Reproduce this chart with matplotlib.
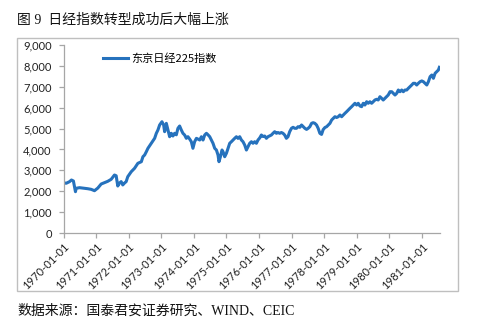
import matplotlib.pyplot as plt
import matplotlib.dates as mdates
import pandas as pd
from matplotlib.patches import Rectangle
from matplotlib.ticker import FuncFormatter

plt.rcParams['font.family'] = ['Lato', 'Noto Sans CJK SC', 'DejaVu Sans']

# 东京日经225指数 (roughly twice a month)
dates = [
    '1970-01-01', '1970-01-31', '1970-03-09', '1970-03-31', '1970-04-22', '1970-05-07',
    '1970-05-15', '1970-05-23', '1970-06-29', '1970-08-24', '1970-09-30', '1970-11-07',
    '1970-12-14', '1971-01-20', '1971-02-27', '1971-04-05', '1971-05-12', '1971-06-19',
    '1971-07-26', '1971-08-14', '1971-09-01', '1971-09-20', '1971-10-09', '1971-10-27',
    '1971-11-15', '1971-12-04', '1971-12-22', '1972-01-30', '1972-03-07', '1972-04-13',
    '1972-05-22', '1972-06-09', '1972-06-28', '1972-07-17', '1972-08-04', '1972-09-11',
    '1972-10-18', '1972-11-06', '1972-11-24', '1972-12-13', '1973-01-08', '1973-01-27',
    '1973-02-07', '1973-02-26', '1973-03-16', '1973-04-04', '1973-04-23', '1973-05-11',
    '1973-05-30', '1973-06-18', '1973-07-06', '1973-07-25', '1973-08-13', '1973-08-31',
    '1973-09-19', '1973-10-08', '1973-10-26', '1973-11-14', '1973-12-03', '1973-12-21',
    '1974-01-09', '1974-01-29', '1974-03-07', '1974-03-26', '1974-04-13', '1974-05-02',
    '1974-05-21', '1974-06-08', '1974-06-27', '1974-07-16', '1974-08-03', '1974-08-22',
    '1974-09-10', '1974-09-28', '1974-10-09', '1974-10-25', '1974-11-12', '1974-11-23',
    '1974-12-12', '1974-12-31', '1975-01-18', '1975-02-06', '1975-02-25', '1975-03-15',
    '1975-04-03', '1975-04-22', '1975-05-10', '1975-05-29', '1975-06-17', '1975-07-05',
    '1975-07-24', '1975-08-12', '1975-08-30', '1975-09-18', '1975-10-07', '1975-10-25',
    '1975-11-13', '1975-12-02', '1975-12-20', '1976-01-08', '1976-01-27', '1976-02-14',
    '1976-03-04', '1976-03-23', '1976-04-10', '1976-04-29', '1976-05-18', '1976-06-05',
    '1976-06-24', '1976-07-13', '1976-07-31', '1976-08-19', '1976-09-07', '1976-09-25',
    '1976-10-14', '1976-11-02', '1976-11-20', '1976-12-09', '1976-12-29', '1977-01-16',
    '1977-02-04', '1977-02-23', '1977-03-13', '1977-04-02', '1977-04-21', '1977-05-09',
    '1977-05-28', '1977-06-16', '1977-07-04', '1977-07-23', '1977-08-11', '1977-08-29',
    '1977-09-17', '1977-10-06', '1977-10-24', '1977-11-12', '1977-12-01', '1977-12-19',
    '1978-01-08', '1978-01-27', '1978-02-14', '1978-03-05', '1978-03-24', '1978-04-11',
    '1978-04-30', '1978-05-19', '1978-06-06', '1978-06-25', '1978-07-14', '1978-08-01',
    '1978-08-20', '1978-09-08', '1978-09-26', '1978-10-15', '1978-11-03', '1978-11-21',
    '1978-12-10', '1978-12-29', '1979-01-16', '1979-02-04', '1979-02-23', '1979-03-13',
    '1979-04-01', '1979-04-20', '1979-05-08', '1979-05-27', '1979-06-15', '1979-07-03',
    '1979-07-22', '1979-08-10', '1979-08-28', '1979-09-16', '1979-10-05', '1979-10-23',
    '1979-11-11', '1979-11-30', '1979-12-18', '1980-01-07', '1980-01-26', '1980-02-13',
    '1980-03-03', '1980-03-22', '1980-04-09', '1980-04-28', '1980-05-17', '1980-06-04',
    '1980-06-23', '1980-07-12', '1980-07-30', '1980-08-18', '1980-09-06', '1980-09-24',
    '1980-10-13', '1980-11-01', '1980-11-19', '1980-12-09', '1980-12-28', '1981-01-15',
    '1981-02-03', '1981-02-22', '1981-03-12', '1981-03-31', '1981-04-19', '1981-05-07',
    '1981-05-26', '1981-06-14', '1981-07-02', '1981-07-13',
]
nikkei = [
    2408, 2380, 2456, 2537, 2490, 2140,
    1977, 2140, 2170, 2140, 2120, 2090,
    2025, 2150, 2345, 2410, 2475, 2570,
    2776, 2740, 2250, 2390, 2460, 2300,
    2390, 2460, 2695, 2935, 3097, 3336,
    3413, 3652, 3734, 3892, 4055, 4294,
    4533, 4773, 4931, 5170, 5328, 5170,
    4850, 5250, 4931, 4610, 4773, 4643,
    4773, 4700, 5012, 5122, 4931, 4773,
    4691, 4533, 4610, 4500, 4371, 4055,
    4371, 4533, 4452, 4610, 4452, 4691,
    4773, 4700, 4610, 4452, 4294, 4055,
    3973, 3734, 3413, 3652, 3973, 3892,
    3652, 3815, 4055, 4294, 4371, 4452,
    4533, 4610, 4530, 4610, 4452, 4371,
    4213, 3973, 4131, 4294, 4371, 4294,
    4371, 4294, 4452, 4550, 4691, 4620,
    4643, 4533, 4610, 4650, 4691, 4773,
    4850, 4773, 4810, 4773, 4810, 4773,
    4691, 4533, 4610, 4850, 5012, 5060,
    5012, 5012, 5090, 5060, 5170, 5090,
    5012, 4960, 5012, 5090, 5250, 5282,
    5250, 5170, 5012, 4773, 4720, 4950,
    5050, 5090, 5170, 5250, 5410, 5490,
    5567, 5530, 5567, 5649, 5567, 5649,
    5730, 5807, 5888, 5969, 6046, 6127,
    6209, 6127, 6209, 6080, 6046, 6209,
    6127, 6285, 6209, 6285, 6209, 6285,
    6367, 6400, 6367, 6525, 6448, 6367,
    6448, 6525, 6606, 6764, 6764, 6687,
    6606, 6687, 6845, 6764, 6845, 6764,
    6845, 6845, 6927, 7004, 7085, 7166,
    7166, 7085, 7166, 7243, 7280, 7243,
    7166, 7085, 7243, 7482, 7563, 7406,
    7645, 7725, 7803, 7932,
]
series_name = '东京日经225指数'
title = '图 9  日经指数转型成功后大幅上涨'
source = '数据来源：国泰君安证券研究、WIND、CEIC'

W, H = 479, 332
fig = plt.figure(figsize=(W / 100, H / 100), dpi=100)
ax = fig.add_axes([63.5 / W, 1 - 233 / H, (440 - 63.5) / W, (233 - 45) / H])

ax.plot(pd.to_datetime(dates), nikkei, color='#2672bd', lw=2.2, label=series_name)

ax.set_ylim(0, 9000)
ax.set_yticks(range(0, 9001, 1000))
ax.yaxis.set_major_formatter(FuncFormatter(lambda v, _: f'{v:,.0f}'))
ax.set_xlim(pd.Timestamp('1970-01-01'), pd.Timestamp('1981-07-20'))
ax.xaxis.set_major_locator(mdates.YearLocator())
ax.xaxis.set_major_formatter(mdates.DateFormatter('%Y-%m-%d'))

for s in ['top', 'right']:
    ax.spines[s].set_visible(False)
for s in ['left', 'bottom']:
    ax.spines[s].set_color('#a6a6a6')
    ax.spines[s].set_linewidth(0.9)
ax.tick_params(axis='both', color='#a6a6a6', length=3.5, width=0.9,
               labelsize=8, labelcolor='#222222')
ax.tick_params(axis='y', pad=5)
ax.tick_params(axis='x', pad=2)
plt.setp(ax.get_xticklabels(), rotation=45, ha='right', rotation_mode='anchor')

ax.legend(loc='center left', bbox_to_anchor=(103 / W, 1 - 59 / H),
          bbox_transform=fig.transFigure, frameon=False, borderpad=0,
          borderaxespad=0, handlelength=2.25, handletextpad=0.3,
          prop={'family': ['Noto Sans CJK SC', 'DejaVu Sans'], 'size': 8})

# outer frame around the chart
fig.patches.append(Rectangle((17 / W, 1 - 291 / H), (458 - 17) / W, (291 - 38) / H,
                             transform=fig.transFigure, fill=False,
                             ec='#bfbfbf', lw=1.0))

fig.text(17 / W, 1 - 20 / H, title, va='center', ha='left', fontsize=10,
         color='#111111', family=['Liberation Serif', 'Noto Sans CJK SC'])
fig.text(17 / W, 1 - 311 / H, source, va='center', ha='left', fontsize=10,
         color='#111111', family=['Liberation Serif', 'Noto Sans CJK SC'])

fig.savefig('out.png', dpi=100)
